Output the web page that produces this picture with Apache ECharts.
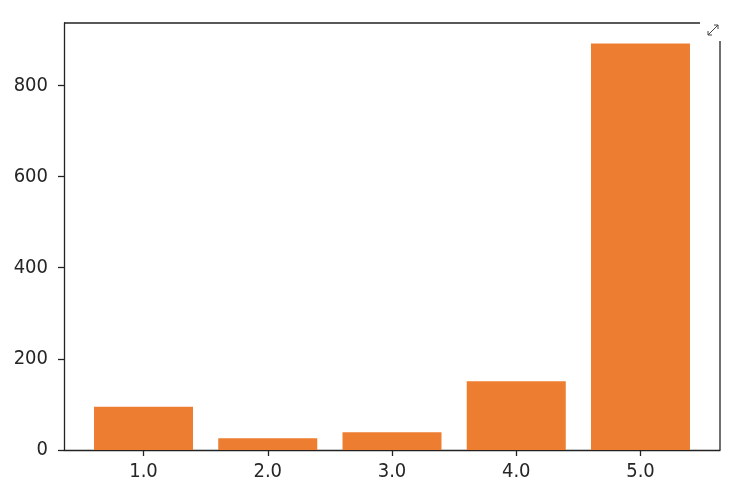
<!DOCTYPE html>
<html>
<head>
<meta charset="utf-8">
<script src="https://cdn.jsdelivr.net/npm/echarts@6/dist/echarts.min.js"></script>
<style>html,body{margin:0;padding:0;background:#fff;}#c{width:747px;height:500px;}</style>
</head>
<body>
<div id="c"></div>
<script>
const xPositions = [1, 2, 3, 4, 5];
const xTickLabels = ['1.0', '2.0', '3.0', '4.0', '5.0'];
const values = [95, 26, 39, 151, 892];
const yTicks = [0, 200, 400, 600, 800];

const chart = echarts.init(document.getElementById('c'), null, {renderer: 'canvas'});
const G = {left: 64, right: 27, top: 23, bottom: 50};
const W = 747, H = 500;
const axisColor = '#222222';
const labelStyle = {color: '#262626', fontSize: 20, fontFamily: '"DejaVu Sans Condensed", "Liberation Sans Narrow", sans-serif'};

chart.setOption({
  animation: false,
  backgroundColor: '#ffffff',
  grid: {left: G.left, right: G.right, top: G.top, bottom: G.bottom, containLabel: false},
  xAxis: {
    type: 'value', min: 0.36, max: 5.64,
    splitLine: {show: false},
    axisLine: {show: true, lineStyle: {color: axisColor, width: 1.3}},
    axisTick: {show: true, length: 6, lineStyle: {color: axisColor, width: 1.3}, customValues: xPositions},
    axisLabel: Object.assign({margin: 12, customValues: xPositions,
      formatter: v => xTickLabels[xPositions.indexOf(v)] || ''}, labelStyle)
  },
  yAxis: {
    type: 'value', min: 0, max: 937,
    splitLine: {show: false},
    axisLine: {show: true, lineStyle: {color: axisColor, width: 1.3}},
    axisTick: {show: true, length: 6, lineStyle: {color: axisColor, width: 1.3}, customValues: yTicks},
    axisLabel: Object.assign({margin: 16, customValues: yTicks}, labelStyle)
  },
  series: [{
    type: 'bar',
    barWidth: 99,
    itemStyle: {color: '#ED7D31'},
    data: xPositions.map((x, i) => [x, values[i]])
  }],
  graphic: [
    {type: 'line', silent: true, shape: {x1: G.left, y1: G.top, x2: 700, y2: G.top}, style: {stroke: axisColor, lineWidth: 1.3}},
    {type: 'line', silent: true, shape: {x1: W - G.right, y1: 41, x2: W - G.right, y2: H - G.bottom}, style: {stroke: axisColor, lineWidth: 1.3}},
    {type: 'line', silent: true, shape: {x1: 708, y1: 35, x2: 718, y2: 25}, style: {stroke: '#444', lineWidth: 1}},
    {type: 'polyline', silent: true, shape: {points: [[714, 25], [718, 25], [718, 29]]}, style: {stroke: '#444', lineWidth: 1, fill: null}},
    {type: 'polyline', silent: true, shape: {points: [[708, 31], [708, 35], [712, 35]]}, style: {stroke: '#444', lineWidth: 1, fill: null}}
  ]
});
</script>
</body>
</html>
